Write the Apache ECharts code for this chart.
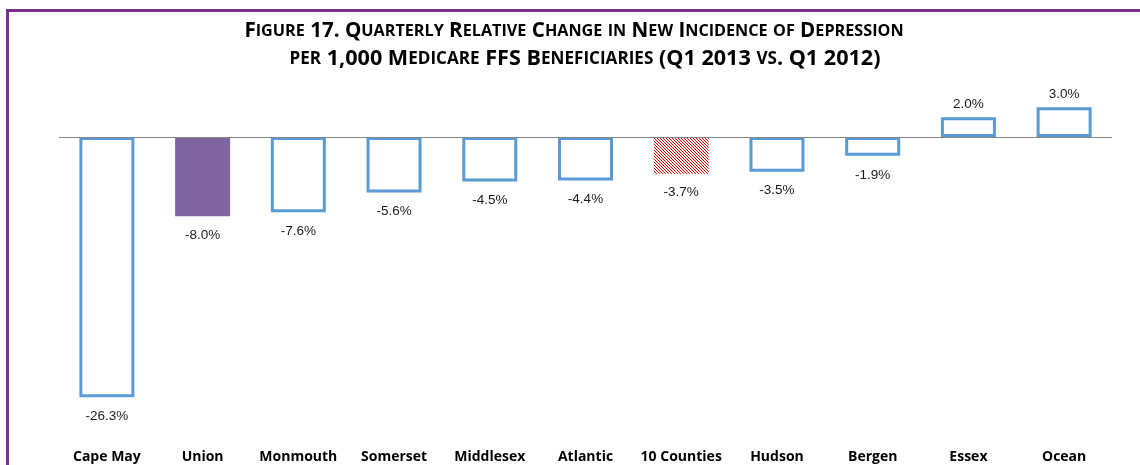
<!DOCTYPE html>
<html>
<head>
<meta charset="utf-8">
<script src="https://cdn.jsdelivr.net/npm/echarts@6/dist/echarts.min.js"></script>
<style>
html,body{margin:0;padding:0;background:#fff;}
#chart{width:1140px;height:465px;}
</style>
</head>
<body>
<div id="chart"></div>
<script>
const titleLine1 = "Figure 17. Quarterly Relative Change in New Incidence of Depression";
const titleLine2 = "per 1,000 Medicare FFS Beneficiaries (Q1 2013 vs. Q1 2012)";
const categories = ["Cape May","Union","Monmouth","Somerset","Middlesex","Atlantic","10 Counties","Hudson","Bergen","Essex","Ocean"];
const values = [-26.3,-8.0,-7.6,-5.6,-4.5,-4.4,-3.7,-3.5,-1.9,2.0,3.0];
const filledCategory = "Union";
const hatchedCategory = "10 Counties";

// hatch pattern
const pc = document.createElement('canvas');
pc.width = 6; pc.height = 6;
const pctx = pc.getContext('2d');
pctx.fillStyle = '#ffffff';
pctx.fillRect(0,0,6,6);
pctx.fillStyle = '#e00000';
for (let y=0;y<6;y++) for (let x=0;x<6;x++) {
  if (((x - y) % 3 + 3) % 3 === 0) pctx.fillRect(x,y,1,1);
}

function smallCaps(str){
  let out = '';
  let cur = null, buf = '';
  for (const ch of str) {
    const isLower = ch >= 'a' && ch <= 'z';
    const t = isLower ? 's' : 'b';
    const c = isLower ? ch.toUpperCase() : ch;
    if (t !== cur) {
      if (cur) out += '{' + cur + '|' + buf + '}';
      cur = t; buf = c;
    } else buf += c;
  }
  if (cur) out += '{' + cur + '|' + buf + '}';
  return out;
}

const titleColor = '#8064a2';
const titleFont = 'Open Sans';
function richTitle(big, small) {
  return {
    b: {fontFamily: titleFont, fontWeight: 'bold', fontSize: big, color: titleColor},
    s: {fontFamily: titleFont, fontWeight: 'bold', fontSize: small, color: titleColor}
  };
}

const data = values.map((v,i) => {
  const name = categories[i];
  let itemStyle;
  if (name === filledCategory) itemStyle = {color:'#8064a2', borderWidth:0};
  else if (name === hatchedCategory) itemStyle = {color:{image: pc, repeat:'repeat'}, borderWidth:0};
  else itemStyle = {color:'#ffffff', borderColor:'#5b9bd5', borderWidth:3};
  return {value: v, itemStyle, label: {distance: v < 0 ? 12 : 6}};
});

const chart = echarts.init(document.getElementById('chart'), null, {renderer:'canvas'});
chart.setOption({
  animation: false,
  backgroundColor: '#ffffff',
  grid: {left: 59, right: 28, top: 87.5, bottom: 31},
  xAxis: {
    type: 'category',
    data: categories,
    position: 'bottom',
    axisLine: {show: false, onZero: false},
    axisTick: {show: false},
    axisLabel: {
      margin: 16, color: '#000000', fontFamily: 'Open Sans', fontWeight: 'bold', fontSize: 14, interval: 0
    }
  },
  yAxis: {
    type: 'value', min: -30, max: 5,
    show: false
  },
  series: [{
    type: 'bar',
    data: data,
    barWidth: 55,
    label: {
      show: true, position: 'outside',
      formatter: p => p.value.toFixed(1) + '%',
      fontFamily: 'Liberation Sans', fontSize: 13.5, color: '#1a1a1a'
    },
    markLine: {
      silent: true, symbol: 'none', label: {show: false},
      lineStyle: {color: '#868686', width: 1, type: 'solid'},
      data: [{yAxis: 0}]
    }
  }],
  graphic: [
    {type:'rect', shape:{x:6, y:9, width:1134, height:3}, style:{fill:'#7b2e8c'}, z:100},
    {type:'rect', shape:{x:6, y:9, width:3, height:456}, style:{fill:'#7b2e8c'}, z:100},
    {type:'text', x:574, y:31, style:{text: smallCaps(titleLine1), rich: richTitle(20.6, 16.2), align:'center', verticalAlign:'middle'}, z:100},
    {type:'text', x:585, y:59, style:{text: smallCaps(titleLine2), rich: richTitle(21.6, 17.1), align:'center', verticalAlign:'middle'}, z:100}
  ]
});
</script>
</body>
</html>
